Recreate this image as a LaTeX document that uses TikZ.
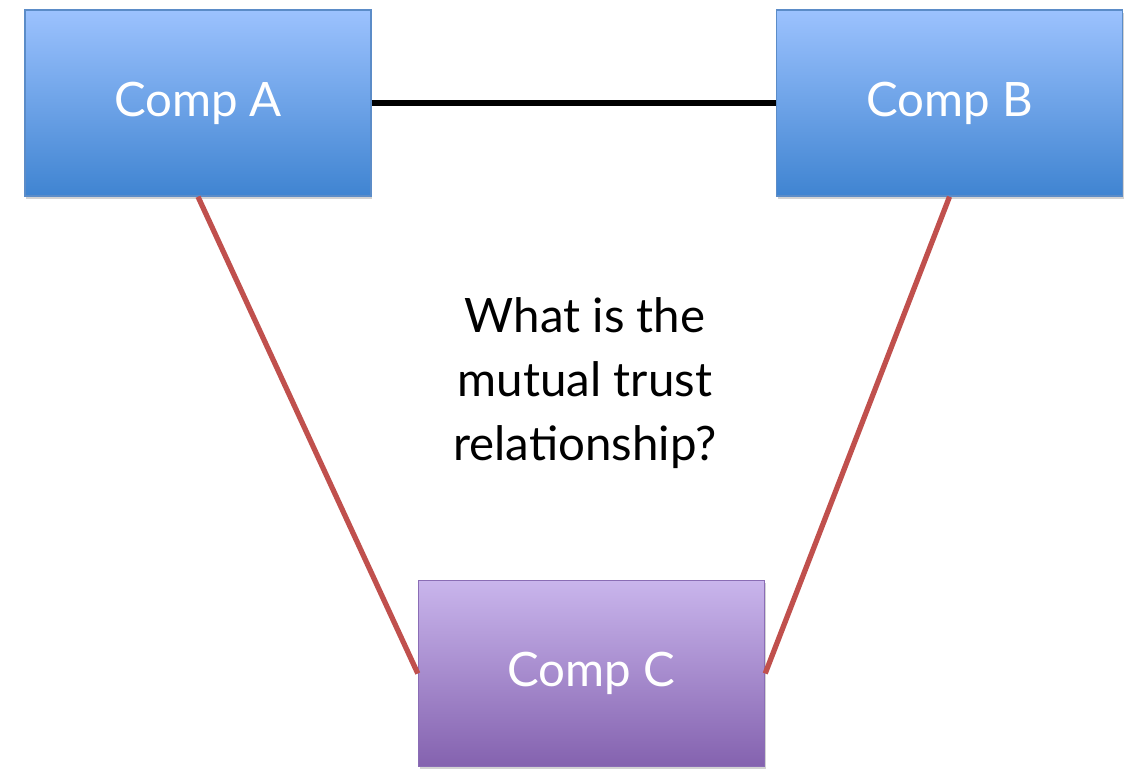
\documentclass[tikz,border=0pt]{standalone}
\usepackage{fontspec}
\setmainfont{Lato}
\usetikzlibrary{shadows}
\definecolor{blueTop}{HTML}{9CC2FE}
\definecolor{blueBot}{HTML}{3F84D1}
\definecolor{blueEdge}{HTML}{5B8CC8}
\definecolor{purTop}{HTML}{C9B5EC}
\definecolor{purBot}{HTML}{8462AF}
\definecolor{purEdge}{HTML}{8A6DB5}
\definecolor{redLine}{HTML}{C0504D}
\tikzset{
  comp/.style={draw, line width=0.8pt, minimum width=346*0.02cm, minimum height=186*0.02cm,
    inner sep=0pt, text=white, font=\fontsize{27}{32}\selectfont,
    drop shadow={opacity=0.35, shadow xshift=0.6pt, shadow yshift=-1.6pt}},
  bluebox/.style={comp, draw=blueEdge, top color=blueTop, bottom color=blueBot},
  purplebox/.style={comp, draw=purEdge, top color=purTop, bottom color=purBot},
  trust/.style={draw=redLine, line width=3pt},
  link/.style={draw=black, line width=3.3pt},
  question/.style={align=center, font=\fontsize{27}{36.5}\selectfont}
}
\begin{document}
\begin{tikzpicture}[x=0.02cm,y=-0.02cm]
\useasboundingbox (0,0) rectangle (1130,768);
\node[bluebox] (A) at (198,103) {Comp A};
\node[bluebox] (B) at (949.5,103) {Comp B};
\node[purplebox] (C) at (591.5,673.5) {Comp C};
\draw[link] (A.east) -- (B.west);
\draw[trust] (A.south) -- (C.west);
\draw[trust] (B.south) -- (C.east);
\node[question] (Q) at (585,383) {What is the\\mutual trust\\relationship?};
\end{tikzpicture}
\end{document}
